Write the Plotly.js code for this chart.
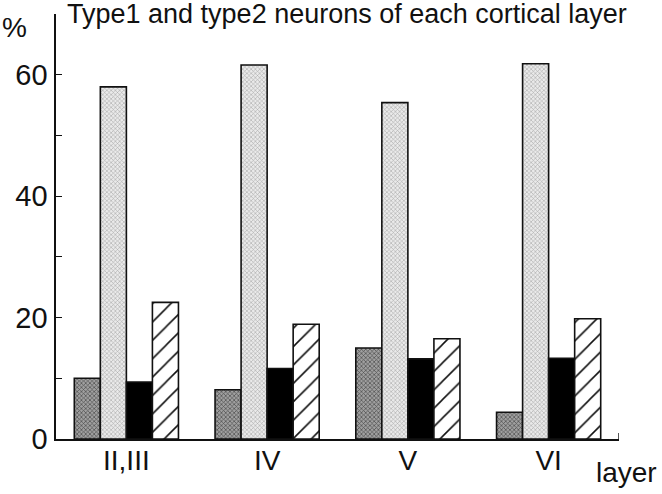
<!DOCTYPE html>
<html>
<head>
<meta charset="utf-8">
<script src="https://cdn.plot.ly/plotly-3.0.1.min.js"></script>
<style>html,body{margin:0;padding:0;background:#fff;}#chart{width:662px;height:494px;}</style>
</head>
<body>
<div id="chart"></div>
<script>
// Data
var layers = ['II,III', 'IV', 'V', 'VI'];
var series1 = [10.0, 8.1, 15.0, 4.4];
var series2 = [58.0, 61.6, 55.4, 61.8];
var series3 = [9.4, 11.6, 13.2, 13.3];
var series4 = [22.5, 18.9, 16.5, 19.8];
var yTicks = [0, 10, 20, 30, 40, 50, 60, 70];
var yTickText = ['0', '', '20', '', '40', '', '60', ''];

var FONT = 'Liberation Sans, Arial, Helvetica, sans-serif';
var INK = '#111111';
var edge = {color: INK, width: 1.6};

var traces = [
  {type: 'bar', x: layers, y: series1, name: 's1',
   marker: {color: '#7a7a7a', line: edge,
            pattern: {shape: 'x', fgcolor: '#4a4a4a', bgcolor: '#a0a0a0', size: 3, solidity: 0.4}}},
  {type: 'bar', x: layers, y: series2, name: 's2',
   marker: {color: '#d4d4d4', line: edge,
            pattern: {shape: 'x', fgcolor: '#a8a8a8', bgcolor: '#eaeaea', size: 3, solidity: 0.35}}},
  {type: 'bar', x: layers, y: series3, name: 's3',
   marker: {color: '#000000', line: edge}},
  {type: 'bar', x: layers, y: series4, name: 's4',
   marker: {color: '#ffffff', line: edge,
            pattern: {shape: '/', fgcolor: '#111111', bgcolor: '#ffffff', size: 13, solidity: 0.12}}}
];

// boundary tick marks between layers (below axis) and small end tick (above axis)
var shapes = [];
for (var i = 0; i < layers.length - 1; i++) {
  shapes.push({type: 'line', xref: 'x', yref: 'y', x0: i + 0.5, x1: i + 0.5,
    ysizemode: 'pixel', yanchor: 0, y0: 0, y1: -19, line: {color: INK, width: 1.6}});
}
shapes.push({type: 'line', xref: 'x', yref: 'y', x0: layers.length - 0.5, x1: layers.length - 0.5,
  ysizemode: 'pixel', yanchor: 0, y0: 0, y1: 6, line: {color: INK, width: 1.4}});

var layout = {
  width: 662, height: 494,
  margin: {l: 56, r: 43, t: 14, b: 55, pad: 0},
  paper_bgcolor: '#ffffff', plot_bgcolor: '#ffffff',
  showlegend: false,
  barmode: 'group', bargap: 0.26, bargroupgap: 0,
  font: {family: FONT, color: INK},
  xaxis: {
    type: 'category', range: [-0.5, layers.length - 0.5],
    showline: true, linecolor: INK, linewidth: 1.6,
    ticks: '', showgrid: false, zeroline: false,
    tickfont: {size: 28, family: FONT, color: INK},
    ticklabelstandoff: -4,
    fixedrange: true
  },
  yaxis: {
    range: [0, 70], tickvals: yTicks, ticktext: yTickText,
    showline: true, linecolor: INK, linewidth: 1.6,
    ticks: 'inside', ticklen: 6, tickwidth: 1.2, tickcolor: INK,
    showgrid: false, zeroline: false,
    tickfont: {size: 29, family: FONT, color: INK},
    ticklabelstandoff: 1,
    fixedrange: true
  },
  shapes: shapes,
  annotations: [
    {text: 'Type1 and type2 neurons of each cortical layer', xref: 'paper', yref: 'paper',
     x: 0, y: 1, xshift: 9, yshift: 0, xanchor: 'left', yanchor: 'middle', showarrow: false,
     font: {size: 27, family: FONT, color: INK}},
    {text: '%', xref: 'paper', yref: 'paper', x: 0, y: 1, xshift: -42, yshift: -13,
     xanchor: 'center', yanchor: 'middle', showarrow: false,
     font: {size: 28, family: FONT, color: INK}},
    {text: 'layer', xref: 'paper', yref: 'paper', x: 1, y: 0, xshift: 7, yshift: -33,
     xanchor: 'center', yanchor: 'middle', showarrow: false,
     font: {size: 28, family: FONT, color: INK}}
  ]
};

Plotly.newPlot('chart', traces, layout, {staticPlot: true, displayModeBar: false});
</script>
</body>
</html>
